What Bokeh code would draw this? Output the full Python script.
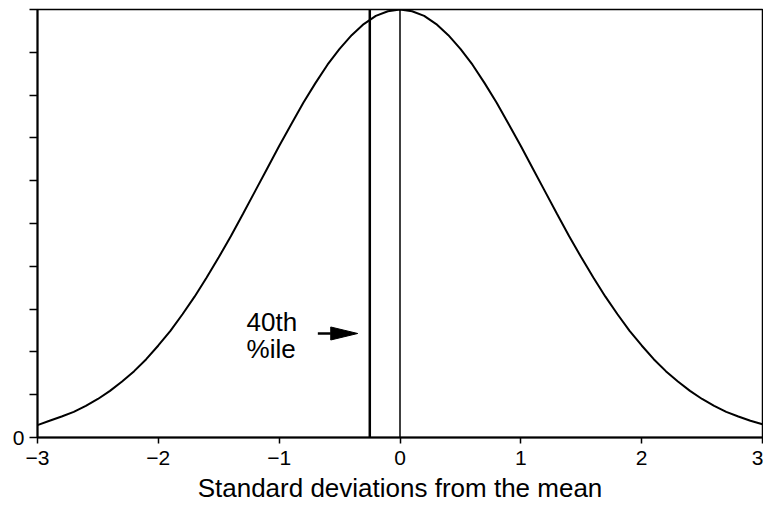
from bokeh.plotting import figure
from bokeh.models import FixedTicker, Span
from bokeh.core.properties import value
from bokeh.embed import file_html
from bokeh.resources import INLINE

# Curve (relative height, peak = 1)
curve_x = [-3.0, -2.9, -2.8, -2.7, -2.6, -2.5, -2.4, -2.3, -2.2, -2.1, -2.0,
           -1.9, -1.8, -1.7, -1.6, -1.5, -1.4, -1.3, -1.2, -1.1, -1.0,
           -0.9, -0.8, -0.7, -0.6, -0.5, -0.4, -0.3, -0.2, -0.1, 0.0,
           0.1, 0.2, 0.3, 0.4, 0.5, 0.6, 0.7, 0.8, 0.9, 1.0,
           1.1, 1.2, 1.3, 1.4, 1.5, 1.6, 1.7, 1.8, 1.9, 2.0,
           2.1, 2.2, 2.3, 2.4, 2.5, 2.6, 2.7, 2.8, 2.9, 3.0]
curve_y = [0.029, 0.039, 0.049, 0.060, 0.074, 0.090, 0.109, 0.131, 0.155,
           0.183, 0.215, 0.249, 0.288, 0.329, 0.374, 0.421, 0.470, 0.522,
           0.575, 0.628, 0.681, 0.732, 0.782, 0.828, 0.871, 0.908, 0.940,
           0.966, 0.985, 0.996, 1.000,
           0.996, 0.985, 0.966, 0.940, 0.908, 0.871, 0.828, 0.782, 0.732,
           0.681, 0.628, 0.575, 0.522, 0.470, 0.421, 0.374, 0.329, 0.288,
           0.249, 0.215, 0.183, 0.155, 0.131, 0.109, 0.090, 0.074, 0.060,
           0.049, 0.039, 0.031]

percentile_x = -0.25   # 40th percentile line
mean_x = 0.0           # mean line

x_ticks = [-3, -2, -1, 0, 1, 2, 3]
x_tick_labels = ["\u22123", "\u22122", "\u22121", "0", "1", "2", "3"]
y_ticks = [0.0, 0.1, 0.2, 0.3, 0.4, 0.5, 0.6, 0.7, 0.8, 0.9, 1.0]
y_tick_labels = ["0", "", "", "", "", "", "", "", "", "", ""]

x_title = "Standard deviations from the mean"
note_lines = ["40th", "%ile"]

FONT = "Liberation Sans"

p = figure(width=763, height=505, x_range=(-3, 3), y_range=(0, 1),
           output_backend="svg", toolbar_location=None,
           min_border_left=37, min_border_right=1, min_border_top=9,
           min_border_bottom=68)
p.background_fill_color = "white"
p.border_fill_color = "white"
p.outline_line_color = "black"
p.outline_line_width = 1.5
p.xgrid.visible = False
p.ygrid.visible = False

# x axis
p.xaxis.ticker = FixedTicker(ticks=x_ticks)
p.xaxis.major_label_overrides = {t: l for t, l in zip(x_ticks, x_tick_labels)}
p.xaxis.minor_tick_line_color = None
p.xaxis.major_tick_in = 0
p.xaxis.major_tick_out = 6
p.xaxis.major_tick_line_width = 1.5
p.xaxis.major_tick_line_color = "black"
p.xaxis.axis_line_width = 2
p.xaxis.axis_line_color = "black"
p.xaxis.major_label_text_font = FONT
p.xaxis.major_label_text_font_size = "21px"
p.xaxis.major_label_text_color = "black"
p.xaxis.major_label_standoff = 7
p.xaxis.axis_label = x_title
p.xaxis.axis_label_text_font = FONT
p.xaxis.axis_label_text_font_size = "26px"
p.xaxis.axis_label_text_font_style = "normal"
p.xaxis.axis_label_text_color = "black"
p.xaxis.axis_label_standoff = 5

# y axis
p.yaxis.ticker = FixedTicker(ticks=y_ticks)
p.yaxis.major_label_overrides = {t: l for t, l in zip(y_ticks, y_tick_labels)}
p.yaxis.minor_tick_line_color = None
p.yaxis.major_tick_in = 0
p.yaxis.major_tick_out = 8
p.yaxis.major_tick_line_width = 1.5
p.yaxis.major_tick_line_color = "black"
p.yaxis.axis_line_width = 2
p.yaxis.axis_line_color = "black"
p.yaxis.major_label_text_font = FONT
p.yaxis.major_label_text_font_size = "21px"
p.yaxis.major_label_text_color = "black"
p.yaxis.major_label_standoff = 5

# curve
p.line(curve_x, curve_y, line_color="black", line_width=2)

# vertical lines
p.add_layout(Span(location=percentile_x, dimension="height",
                  line_color="black", line_width=2.5))
p.add_layout(Span(location=mean_x, dimension="height",
                  line_color="black", line_width=1.5))

# annotation text
note_x = -1.27
p.text([note_x], [0.305], text=[note_lines[0]], text_font=value(FONT),
       text_font_size="26px", text_color="black", text_baseline="top",
       text_align="left")
p.text([note_x], [0.242], text=[note_lines[1]], text_font=value(FONT),
       text_font_size="26px", text_color="black", text_baseline="top",
       text_align="left")

# arrow pointing at the percentile line
arrow_y = 0.243
tip_x = -0.35
head_len = 27 / 121.0
head_half = 6.5 / 428.0
tail_x = -0.68
p.line([tail_x, tip_x - head_len], [arrow_y, arrow_y], line_color="black",
       line_width=2.5)
p.patch([tip_x, tip_x - head_len, tip_x - head_len],
        [arrow_y, arrow_y + head_half, arrow_y - head_half],
        fill_color="black", line_color="black", line_width=1)

open("out.html", "w").write(file_html(p, INLINE))
